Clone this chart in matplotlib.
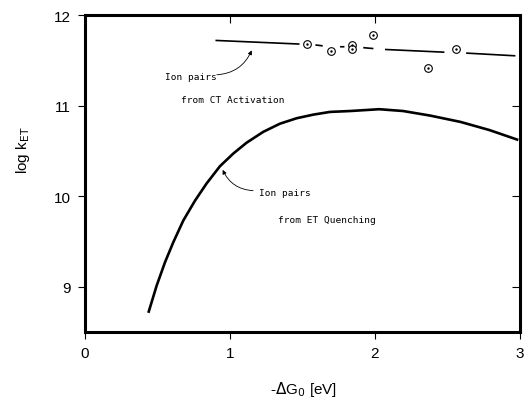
import numpy as np
import matplotlib
matplotlib.use("Agg")
import matplotlib.pyplot as plt

# ion pairs from ET quenching (solid curve)
et_x = [0.437, 0.494, 0.552, 0.609, 0.678, 0.759, 0.839, 0.931, 1.023, 1.115,
        1.23, 1.345, 1.46, 1.575, 1.69, 1.83, 2.03, 2.195, 2.38, 2.59, 2.79, 2.99]
et_y = [8.71, 9.01, 9.27, 9.49, 9.73, 9.95, 10.14, 10.33, 10.47, 10.59,
        10.71, 10.80, 10.86, 10.90, 10.93, 10.94, 10.96, 10.94, 10.89, 10.82, 10.73, 10.62]

# ion pairs from CT activation (broken line, gaps around the points)
ct_x = [0.90, 1.48, np.nan, 1.59, 1.64, np.nan, 1.76, 1.79, np.nan, 1.92, 1.99,
        np.nan, 2.07, 2.48, np.nan, 2.63, 2.97]
ct_y = [11.72, 11.68, np.nan, 11.67, 11.66, np.nan, 11.65, 11.65, np.nan, 11.64, 11.63,
        np.nan, 11.62, 11.59, np.nan, 11.58, 11.55]

# measured points
pts_x = [1.53, 1.70, 1.84, 1.84, 1.99, 2.37, 2.56]
pts_y = [11.68, 11.60, 11.67, 11.62, 11.78, 11.42, 11.63]

xticks = [0, 1, 2, 3]
yticks = [9, 10, 11, 12]

fig = plt.figure(figsize=(5.25, 4.02), dpi=100)
ax = fig.add_axes([0.162, 0.172, 0.828, 0.788])

ax.plot(et_x, et_y, color="black", lw=1.9, solid_capstyle="butt",
        solid_joinstyle="round")
ax.plot(ct_x, ct_y, color="black", lw=1.2, solid_capstyle="butt")
ax.plot(pts_x, pts_y, "o", ms=5.5, mfc="white", mec="black", mew=0.8)
ax.plot(pts_x, pts_y, ".", ms=1.5, color="black")

ax.set_xlim(0, 3)
ax.set_ylim(8.5, 12)
ax.set_xticks(xticks)
ax.set_yticks(yticks)
ax.tick_params(direction="out", length=5, width=0.8, labelsize=11, pad=5,
               top=False, right=False)
for lab in ax.get_xticklabels() + ax.get_yticklabels():
    lab.set_family("Liberation Sans")
for s in ax.spines.values():
    s.set_linewidth(2.2)

# inward ticks on top and right
top = ax.secondary_xaxis("top")
top.set_xticks([1, 2])
top.tick_params(direction="in", length=6, width=0.8, labeltop=False)
top.spines["top"].set_visible(False)
right = ax.secondary_yaxis("right")
right.set_yticks([9, 10, 11])
right.tick_params(direction="in", length=6, width=0.8, labelright=False)
right.spines["right"].set_visible(False)

mono = dict(family="DejaVu Sans Mono", fontsize=6.8, va="center", ha="left")
ax.text(0.55, 11.32, "Ion pairs", **mono)
ax.text(0.66, 11.07, "from CT Activation", **mono)
ax.text(1.20, 10.04, "Ion pairs", **mono)
ax.text(1.33, 9.74, "from ET Quenching", **mono)

arr = dict(arrowstyle="-|>", lw=0.6, color="black", mutation_scale=6,
           shrinkA=0, shrinkB=0)
ax.annotate("", xy=(1.15, 11.61), xytext=(0.91, 11.34),
            arrowprops=dict(arr, connectionstyle="arc3,rad=0.3"))
ax.annotate("", xy=(0.95, 10.29), xytext=(1.16, 10.06),
            arrowprops=dict(arr, connectionstyle="arc3,rad=-0.3"))

fig.text(0.044, 0.627, r"log k$_{\mathrm{ET}}$", rotation=90, ha="center",
         va="center", fontsize=11, family="Liberation Sans")
fig.text(0.578, 0.008, r"-$\Delta$G$_0$ [eV]", ha="center", va="bottom",
         fontsize=11, family="Liberation Sans")

fig.savefig("out.png", dpi=100)
